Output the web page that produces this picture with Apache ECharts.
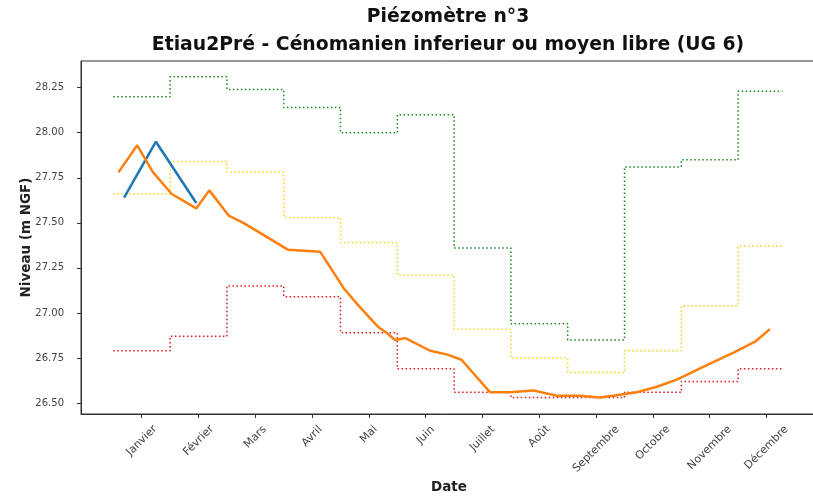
<!DOCTYPE html>
<html lang="fr">
<head>
  <meta charset="UTF-8">
  <title>Piézomètre n°3</title>
  <style>
    html,
    body {
      width: 100%;
      height: 100%;
      padding: 0;
      margin: 0;
      background: #fff;
    }

    #chart {
      width: 813px;
      height: 500px;
    }
  </style>
</head>
<body>
  <div id="chart"></div>
  <script src="https://cdn.jsdelivr.net/npm/echarts@6/dist/echarts.min.js"></script>
  <script>
    // mois (un tick par mois, index 0..11)
    var months = ['Janvier', 'Février', 'Mars', 'Avril', 'Mai', 'Juin', 'Juillet',
      'Août', 'Septembre', 'Octobre', 'Novembre', 'Décembre'];
    var monthTicks = [0, 1, 2, 3, 4, 5, 6, 7, 8, 9, 10, 11];
    var yTicks = [26.5, 26.75, 27.0, 27.25, 27.5, 27.75, 28.0, 28.25];

    // seuils mensuels (lignes en escalier)
    var stepGreen = [28.20, 28.31, 28.24, 28.14, 28.00, 28.10, 27.36, 26.94, 26.85, 27.81, 27.85, 28.23];
    var stepYellow = [27.66, 27.84, 27.78, 27.53, 27.39, 27.21, 26.91, 26.75, 26.67, 26.79, 27.04, 27.37];
    var stepRed = [26.79, 26.87, 27.15, 27.09, 26.89, 26.69, 26.56, 26.53, 26.53, 26.56, 26.62, 26.69];
    var stepEnd = 11.28;

    // niveaux mesurés
    var blueX = [-0.31, 0.25, 0.96];
    var blueY = [27.64, 27.95, 27.61];
    var orangeX = [-0.41, -0.08, 0.20, 0.53, 0.96, 1.19, 1.53, 1.79, 2.58, 3.14, 3.55, 3.79, 4.17, 4.31,
      4.46, 4.64, 5.08, 5.37, 5.63, 6.13, 6.48, 6.89, 7.31, 7.72, 8.07, 8.30, 8.72, 9.07, 9.42, 9.95,
      10.42, 10.80, 11.06];
    var orangeY = [27.78, 27.93, 27.78, 27.66, 27.58, 27.68, 27.54, 27.50, 27.35, 27.34, 27.14, 27.05,
      26.92, 26.89, 26.85, 26.86, 26.79, 26.77, 26.74, 26.56, 26.56, 26.57, 26.54, 26.54, 26.53, 26.54,
      26.56, 26.59, 26.63, 26.71, 26.78, 26.84, 26.91];

    function pairs(xs, ys) {
      return xs.map(function (x, i) { return [x, ys[i]]; });
    }

    function steps(vals) {
      var d = vals.map(function (v, i) { return [monthTicks[i] - 0.5, v]; });
      d.push([stepEnd, vals[vals.length - 1]]);
      return d;
    }

    function stepSeries(vals, color) {
      return {
        type: 'line',
        step: 'end',
        symbol: 'none',
        data: steps(vals),
        lineStyle: { color: color, width: 1.5, type: [1.5, 2.5] },
        z: 1
      };
    }

    // labels des mois tournés à 45° et centrés sous le tick (comme matplotlib)
    var font = 'DejaVu Sans';
    var monthSize = 11;
    var ctx = document.createElement('canvas').getContext('2d');
    ctx.font = monthSize + 'px "' + font + '"';
    var rich = {};
    months.forEach(function (m, i) {
      var w = ctx.measureText(m).width;
      var drop = (w + 13) * 0.3536;
      var p = Math.round(drop * 1.414);
      rich['m' + i] = {
        padding: [p, p, 0, 0],
        fontSize: monthSize,
        fontFamily: font,
        color: '#444'
      };
    });

    var nameStyle = { fontFamily: font, fontSize: 13.5, fontWeight: 'bold', color: '#222' };

    var chart = echarts.init(document.getElementById('chart'));

    chart.setOption({
      animation: false,
      backgroundColor: '#fff',
      title: {
        text: 'Piézomètre n°3\nEtiau2Pré - Cénomanien inferieur ou moyen libre (UG 6)',
        left: 448,
        top: 3,
        padding: 0,
        textAlign: 'center',
        textStyle: {
          fontFamily: font,
          fontSize: 18.8,
          fontWeight: 'bold',
          lineHeight: 28,
          color: '#111'
        }
      },
      grid: {
        left: 81,
        right: -4,
        top: 61,
        bottom: 86,
        containLabel: false,
        outerBoundsMode: 'none',
        show: true,
        borderColor: '#333',
        borderWidth: 1
      },
      xAxis: {
        type: 'value',
        min: -1.069,
        max: 11.889,
        name: 'Date',
        nameLocation: 'middle',
        nameGap: 66,
        nameMoveOverlap: false,
        nameTextStyle: nameStyle,
        splitLine: { show: false },
        axisLine: { onZero: false, lineStyle: { color: '#333' } },
        axisTick: { length: 4, customValues: monthTicks, lineStyle: { color: '#333' } },
        axisLabel: {
          customValues: monthTicks,
          rotate: 45,
          align: 'center',
          verticalAlign: 'middle',
          margin: 9,
          formatter: function (v) {
            var i = Math.round(v);
            return '{m' + i + '|' + months[i] + '}';
          },
          rich: rich
        }
      },
      yAxis: {
        type: 'value',
        min: 26.439,
        max: 28.398,
        name: 'Niveau (m NGF)',
        nameLocation: 'middle',
        nameGap: 48,
        nameMoveOverlap: false,
        nameTextStyle: nameStyle,
        splitLine: { show: false },
        axisLine: { show: true, onZero: false, lineStyle: { color: '#333' } },
        axisTick: { show: true, length: 4, customValues: yTicks, lineStyle: { color: '#333' } },
        axisLabel: {
          customValues: yTicks,
          margin: 17,
          fontFamily: font,
          fontSize: 10,
          color: '#444',
          formatter: function (v) { return v.toFixed(2); }
        }
      },
      series: [
        {
          type: 'line',
          symbol: 'none',
          data: pairs(blueX, blueY),
          lineStyle: { color: '#1f77b4', width: 2.5 },
          z: 3
        },
        {
          type: 'line',
          symbol: 'none',
          data: pairs(orangeX, orangeY),
          lineStyle: { color: '#ff7f0e', width: 2.5 },
          z: 4
        },
        stepSeries(stepGreen, '#1a8a1a'),
        stepSeries(stepYellow, '#f2d21a'),
        stepSeries(stepRed, '#e01818')
      ]
    });
  </script>
</body>
</html>
